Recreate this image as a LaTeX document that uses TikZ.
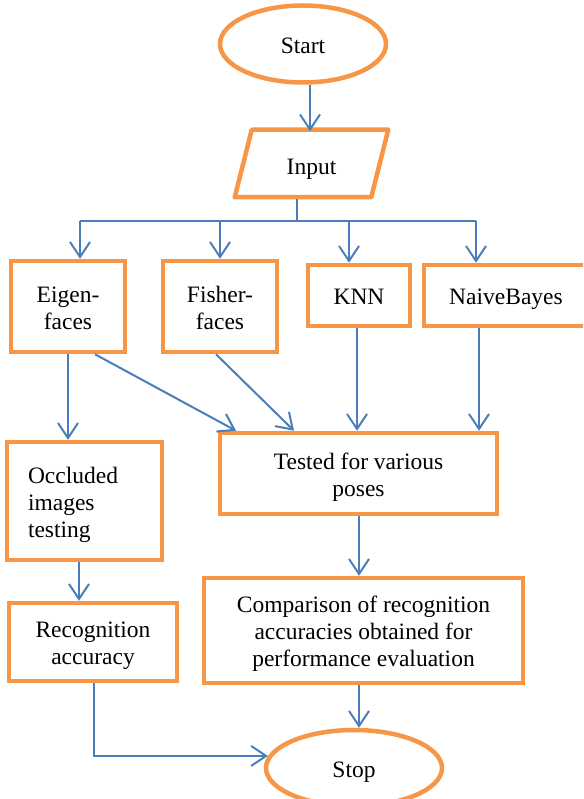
\documentclass[tikz,border=0pt]{standalone}
\usepackage{fontspec}
\setmainfont{Liberation Serif}
\usetikzlibrary{arrows.meta,shapes.geometric,calc}
\definecolor{obox}{HTML}{F79646}
\definecolor{bline}{HTML}{4A7EBB}
\newcommand\lowtxt[2][c]{\raisebox{-4pt}[\height][\depth]{\begin{tabular}{@{}#1@{}}#2\end{tabular}}}
\begin{document}
\begin{tikzpicture}[x=1pt,y=-1pt,
 box/.style={draw=obox,line width=4.5pt,inner sep=0pt,align=center,font=\fontsize{23.5}{27}\selectfont},
 term/.style={box,ellipse},
 conn/.style={draw=bline,line width=2pt,-{Straight Barb[length=15pt,width=20pt]}},
 plainline/.style={draw=bline,line width=2pt}]
\useasboundingbox (0,0) rectangle (583,799);
\clip (0,0) rectangle (583,799);

\node[term,minimum width=166,minimum height=77] (start) at (303,44) {\lowtxt{Start}};
\node[box,draw=none,minimum width=149,minimum height=63] (input) at (311.5,165) {\lowtxt{Input}};
\draw[obox,line width=4.5pt,line join=round] ($(input.north west)+(17,-1.5)$) -- ($(input.north east)+(0,-1.5)$) -- ($(input.south east)-(17,1.5)$) -- ($(input.south west)+(0,-1.5)$) -- cycle;

\node[box,minimum width=114,minimum height=91] (eigen) at (68,306.5) {\lowtxt{Eigen-\\faces}};
\node[box,minimum width=114,minimum height=91] (fisher) at (220,306.5) {\lowtxt{Fisher-\\faces}};
\node[box,minimum width=102,minimum height=61] (knn) at (359,295.5) {\lowtxt{KNN}};
\node[box,minimum width=164,minimum height=61] (naive) at (506,295.5) {\lowtxt{NaiveBayes}};

\node[box,minimum width=277,minimum height=81] (tested) at (358.5,473.5) {\lowtxt{Tested for various\\poses}};
\node[box,minimum width=155,minimum height=118,text width=113,align=left] (occl) at (84.5,501) {\lowtxt[l]{Occluded\\images\\testing}};
\node[box,minimum width=168,minimum height=78] (recog) at (93,642) {\lowtxt{Recognition\\accuracy}};
\node[box,minimum width=319,minimum height=105] (comp) at (363.5,630.5) {\lowtxt{Comparison of recognition\\accuracies obtained for\\performance evaluation}};
\node[term,minimum width=176,minimum height=76] (stop) at (354,768) {\lowtxt{Stop}};

% connectors
\coordinate (x310) at (310,0);
\draw[conn] (x310 |- start.south) -- (x310 |- input.north);
\coordinate (br) at (297,221);
\coordinate (b1) at (80,221);
\coordinate (b2) at (220,221);
\coordinate (b3) at (349,221);
\coordinate (b4) at (476,221);
\draw[plainline] (br |- input.south) -- (br);
\draw[plainline] (b1) -- (b4);
\draw[conn] (b1) -- (b1 |- eigen.north);
\draw[conn] (b2) -- (b2 |- fisher.north);
\draw[conn] (b3) -- (b3 |- knn.north);
\draw[conn] (b4) -- (b4 |- naive.north);

\coordinate (xe) at (68,0);
\coordinate (xed) at (95,0);
\coordinate (xf) at (216,0);
\coordinate (xk) at (357,0);
\coordinate (xn) at (479,0);
\coordinate (xo) at (79,0);
\coordinate (xt) at (359,0);
\coordinate (xr) at (94,0);
\coordinate (te) at (236,0);
\coordinate (tf) at (294,0);
\draw[conn] (xe |- eigen.south) -- (xe |- occl.north);
\draw[conn] (xed |- eigen.south) -- (te |- tested.north);
\draw[conn] (xf |- fisher.south) -- (tf |- tested.north);
\draw[conn] (xk |- knn.south) -- (xk |- tested.north);
\draw[conn] (xn |- naive.south) -- (xn |- tested.north);
\draw[conn] (xo |- occl.south) -- (xo |- recog.north);
\draw[conn] (xt |- tested.south) -- (xt |- comp.north);
\draw[conn] (xt |- comp.south) -- (xt |- stop.north);
\draw[conn] (xr |- recog.south) |- (stop.172);
\end{tikzpicture}
\end{document}
